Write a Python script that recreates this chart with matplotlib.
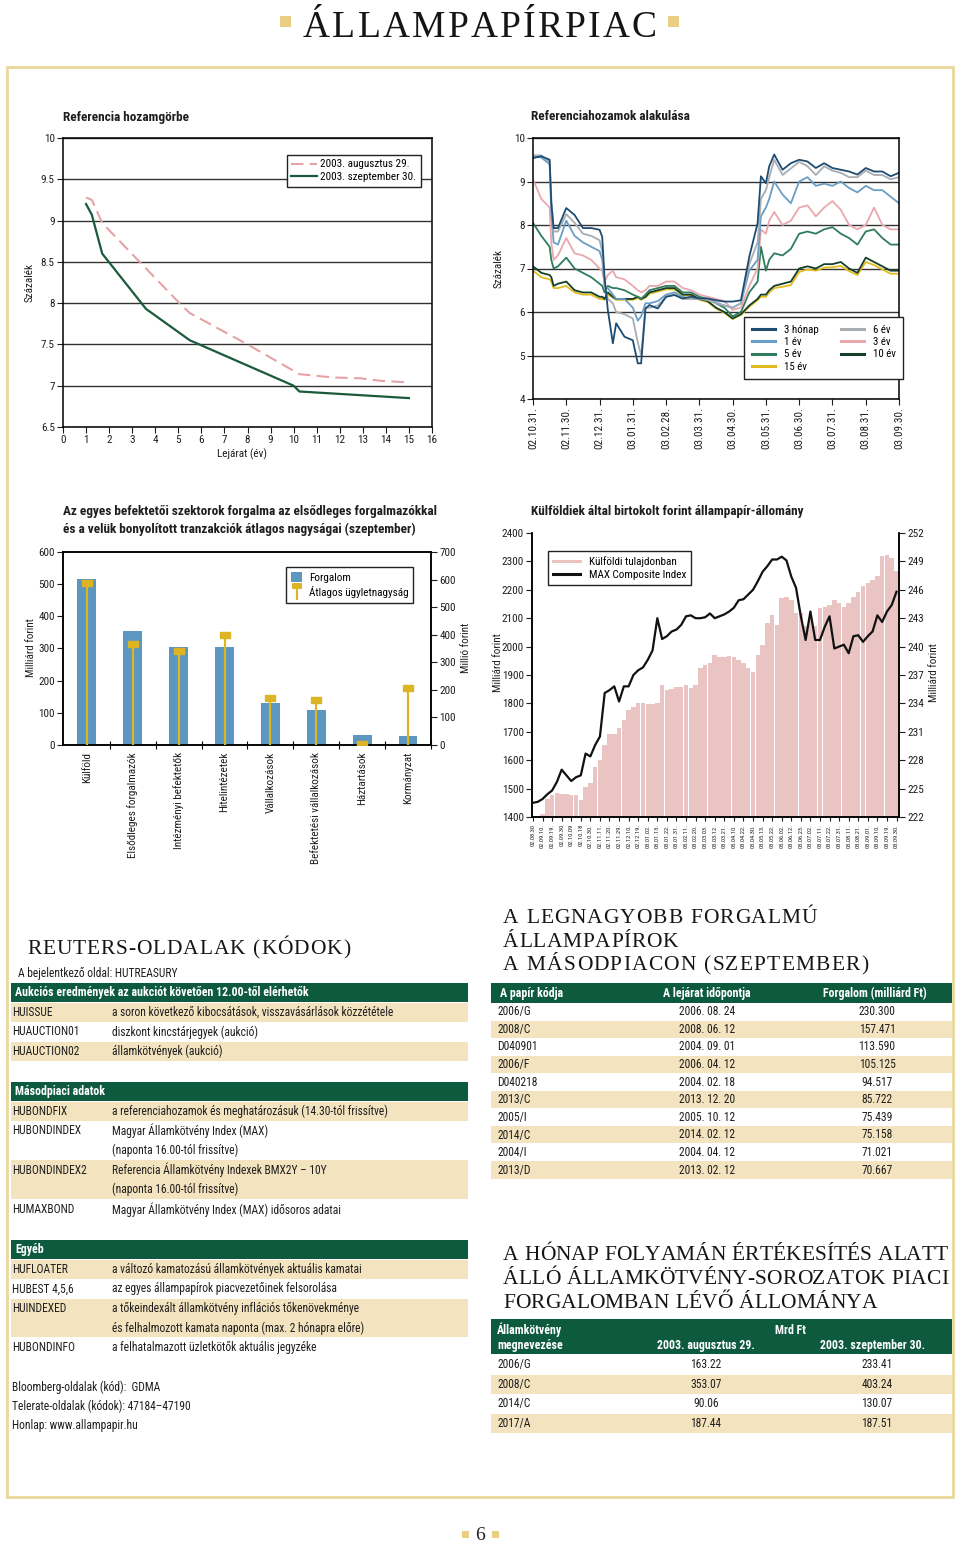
import numpy as np
import matplotlib
matplotlib.use('Agg')
import matplotlib.pyplot as plt
from matplotlib import font_manager as fm
from matplotlib.font_manager import FontProperties
from matplotlib.patches import Rectangle, Patch
from matplotlib.lines import Line2D
from matplotlib.path import Path

names = {f.name for f in fm.fontManager.ttflist}
NARROW = next((n for n in ['Liberation Sans Narrow', 'Roboto Condensed', 'Arial Narrow',
                           'Open Sans Condensed'] if n in names), 'Liberation Sans')
SERIF = 'Liberation Serif' if 'Liberation Serif' in names else 'DejaVu Serif'
plt.rcParams['font.family'] = [NARROW, 'DejaVu Sans']
plt.rcParams['axes.linewidth'] = 1.1

# ---------------- data ----------------
# Referencia hozamgörbe
aug_x = [1.0, 1.25, 1.7, 5.05, 5.5, 8.0, 10.25, 10.6, 11.7, 12.9, 13.75, 15.0]
aug_y = [9.28, 9.25, 8.97, 8.0, 7.88, 7.5, 7.14, 7.13, 7.10, 7.09, 7.06, 7.04]
sep_x = [1.0, 1.25, 1.7, 3.6, 5.5, 10.0, 10.25, 15.0]
sep_y = [9.2, 9.07, 8.6, 7.93, 7.55, 7.0, 6.93, 6.85]

# Referenciahozamok alakulása (x = months since 02.10.31)
ref_x = [0, 0.25, 0.5, 0.55, 0.62, 0.75, 1.0, 1.25, 1.5, 1.75, 2.0, 2.08, 2.15, 2.25, 2.4,
         2.5, 2.75, 3.0, 3.15, 3.25, 3.38, 3.5, 3.75, 4.0, 4.25, 4.5, 4.75, 5.0, 5.25, 5.5,
         5.75, 6.0, 6.25, 6.5, 6.75, 6.85, 7.0, 7.1, 7.25, 7.5, 7.75, 8.0, 8.25, 8.5, 8.75,
         9.0, 9.25, 9.5, 9.75, 10.0, 10.25, 10.5, 10.75, 11.0]
y_3m = [9.54, 9.58, 9.5, 8.5, 7.93, 7.93, 8.39, 8.23, 7.93, 7.93, 7.89, 7.73, 6.8, 6.04, 5.28,
        5.74, 5.43, 5.35, 4.82, 4.82, 6.08, 6.16, 6.08, 6.35, 6.39, 6.31, 6.35, 6.31, 6.31, 6.27,
        6.24, 6.24, 6.27, 7.27, 8.04, 9.12, 8.96, 9.35, 9.62, 9.27, 9.42, 9.5, 9.46, 9.31, 9.42,
        9.31, 9.27, 9.23, 9.16, 9.31, 9.23, 9.23, 9.12, 9.2]
y_6y = [9.6, 9.6, 9.45, 8.6, 7.85, 7.85, 8.25, 8.05, 7.8, 7.75, 7.65, 7.4, 6.6, 6.3, 6.2,
        6.0, 5.95, 5.85, 5.3, 5.0, 6.1, 6.1, 6.15, 6.35, 6.4, 6.3, 6.3, 6.3, 6.28, 6.2,
        6.15, 6.1, 6.2, 7.1, 7.6, 8.6, 8.8, 9.1, 9.5, 9.15, 9.3, 9.45, 9.35, 9.15, 9.35,
        9.25, 9.2, 9.1, 9.1, 9.25, 9.15, 9.15, 9.05, 9.1]
y_1y = [9.6, 9.55, 9.4, 8.3, 7.6, 7.55, 8.1, 7.75, 7.6, 7.5, 7.4, 7.2, 6.6, 6.55, 6.4,
        6.3, 6.3, 6.1, 5.8, 5.9, 6.2, 6.2, 6.25, 6.4, 6.45, 6.35, 6.3, 6.3, 6.28, 6.22,
        6.15, 6.1, 6.2, 6.95, 7.2, 8.2, 8.4, 8.6, 9.0, 8.7, 8.5, 9.0, 9.1, 8.9, 8.95,
        8.9, 9.0, 8.85, 8.75, 8.9, 8.8, 8.8, 8.65, 8.5]
y_3y = [9.05, 8.6, 8.4, 7.6, 7.2, 7.3, 7.7, 7.35, 7.3, 7.2, 7.0, 6.95, 6.7, 6.85, 6.95,
        6.8, 6.75, 6.6, 6.5, 6.45, 6.5, 6.6, 6.6, 6.7, 6.7, 6.55, 6.5, 6.4, 6.35, 6.3,
        6.25, 6.05, 6.1, 6.6, 7.0, 7.9, 7.8, 8.1, 8.3, 8.0, 8.1, 8.4, 8.45, 8.2, 8.4,
        8.55, 8.35, 8.0, 7.9, 8.0, 8.4, 8.0, 7.9, 7.9]
y_5y = [8.05, 7.75, 7.5, 7.2, 7.0, 7.05, 7.25, 7.0, 6.9, 6.8, 6.65, 6.6, 6.45, 6.6, 6.55,
        6.55, 6.5, 6.4, 6.35, 6.3, 6.4, 6.5, 6.55, 6.6, 6.6, 6.45, 6.45, 6.35, 6.3, 6.2,
        6.1, 5.9, 6.0, 6.45, 6.7, 7.5, 6.95, 7.2, 7.35, 7.3, 7.45, 7.8, 7.85, 7.8, 7.9,
        7.95, 7.8, 7.7, 7.55, 7.85, 7.9, 7.7, 7.55, 7.55]
y_10y = [7.05, 6.9, 6.85, 6.8, 6.6, 6.65, 6.7, 6.5, 6.45, 6.45, 6.35, 6.35, 6.3, 6.45, 6.35,
         6.3, 6.3, 6.3, 6.35, 6.3, 6.35, 6.45, 6.5, 6.55, 6.55, 6.4, 6.4, 6.3, 6.25, 6.1,
         6.0, 5.85, 5.95, 6.15, 6.3, 6.4, 6.4, 6.5, 6.6, 6.65, 6.7, 7.0, 7.05, 7.0, 7.1,
         7.1, 7.15, 7.0, 6.9, 7.25, 7.15, 7.05, 6.95, 6.95]
y_15y = [6.95, 6.8, 6.75, 6.7, 6.55, 6.55, 6.6, 6.45, 6.4, 6.4, 6.3, 6.3, 6.28, 6.4, 6.33,
         6.28, 6.28, 6.28, 6.32, 6.28, 6.33, 6.42, 6.47, 6.52, 6.52, 6.38, 6.38, 6.28, 6.23, 6.08,
         5.98, 5.84, 5.93, 6.12, 6.27, 6.35, 6.35, 6.45, 6.55, 6.58, 6.62, 6.92, 6.98, 6.95, 7.02,
         7.03, 7.06, 6.94, 6.85, 7.15, 7.08, 6.98, 6.88, 6.88]
ref_ticklabels = ['02.10.31.', '02.11.30.', '02.12.31.', '03.01.31.', '03.02.28.', '03.03.31.',
                  '03.04.30.', '03.05.31.', '03.06.30.', '03.07.31.', '03.08.31.', '03.09.30.']

# Szektorok forgalma
sectors = ['Külföld', 'Elsődleges forgalmazók', 'Intézményi befektetők', 'Hitelintézetek',
           'Vállalkozások', 'Befektetési vállalkozások', 'Háztartások', 'Kormányzat']
turnover = [516, 355, 304, 304, 131, 109, 31, 29]          # milliárd forint
avg_size = [588, 366, 342, 398, 172, 164, 2, 206]          # millió forint

# Külföldiek állampapír-állománya (x = half-steps between tick labels)
foreign_labels = ['02.08.30', '02.09.10.', '02.09.19.', '02.09.30', '02.10.09', '02.10.18',
                  '02.10.30.', '02.11.11.', '02.11.20.', '02.11.29.', '02.12.10.', '02.12.19.',
                  '03.01.02.', '03.01.13.', '03.01.22.', '03.01.31.', '03.02.11.', '03.02.20.',
                  '03.03.03.', '03.03.12.', '03.03.21.', '03.04.10.', '03.04.22.', '03.04.30.',
                  '03.05.13.', '03.05.22.', '03.06.02.', '03.06.12.', '03.06.23.', '03.07.02.',
                  '03.07.11.', '03.07.22.', '03.07.31.', '03.08.11.', '03.08.21.', '03.09.01.',
                  '03.09.10.', '03.09.19.', '03.09.30.']
foreign_hold = [1395, 1395, 1410, 1465, 1476, 1485, 1482, 1480, 1476, 1476, 1461, 1506, 1518,
                1576, 1602, 1653, 1694, 1694, 1712, 1741, 1776, 1788, 1800, 1800, 1798, 1798,
                1800, 1865, 1847, 1849, 1859, 1856, 1865, 1853, 1865, 1924, 1935, 1941, 1971,
                1965, 1965, 1967, 1965, 1953, 1941, 1924, 1912, 1971, 2006, 2082, 2112, 2076,
                2171, 2176, 2165, 2118, 2118, 2071, 2094, 2071, 2135, 2141, 2147, 2165, 2153,
                2141, 2153, 2176, 2194, 2212, 2224, 2235, 2247, 2318, 2324, 2312, 2265]
max_index = [223.5, 223.6, 223.9, 224.4, 224.8, 225.7, 227.0, 226.4, 225.8, 226.2, 226.4, 228.7,
             228.4, 229.6, 230.5, 235.1, 235.4, 235.8, 234.2, 235.8, 235.8, 237.0, 237.5, 237.8,
             238.6, 239.6, 243.0, 240.8, 241.1, 241.6, 241.8, 242.3, 243.2, 243.3, 243.0, 243.0,
             243.1, 243.5, 243.0, 243.2, 243.4, 243.7, 244.1, 244.9, 245.0, 245.5, 246.0, 246.9,
             247.9, 248.5, 249.2, 249.2, 249.5, 249.1, 247.4, 246.2, 243.2, 240.7, 243.7, 240.7,
             240.7, 242.1, 243.2, 239.8, 240.0, 240.2, 239.3, 241.1, 241.2, 240.5, 241.1, 241.6,
             243.3, 242.6, 243.7, 244.4, 245.8]

# Táblázatok
reuters_sections = [
    ('Aukciós eredmények az aukciót követően 12.00-től elérhetők', [
        ('HUISSUE', ['a soron következő kibocsátások, visszavásárlások közzététele']),
        ('HUAUCTION01', ['diszkont kincstárjegyek (aukció)']),
        ('HUAUCTION02', ['államkötvények (aukció)'])]),
    ('Másodpiaci adatok', [
        ('HUBONDFIX', ['a referenciahozamok és meghatározásuk (14.30-tól frissítve)']),
        ('HUBONDINDEX', ['Magyar Államkötvény Index (MAX)', '(naponta 16.00-tól frissítve)']),
        ('HUBONDINDEX2', ['Referencia Államkötvény Indexek BMX2Y – 10Y', '(naponta 16.00-tól frissítve)']),
        ('HUMAXBOND', ['Magyar Államkötvény Index (MAX) idősoros adatai'])]),
    ('Egyéb', [
        ('HUFLOATER', ['a változó kamatozású államkötvények aktuális kamatai']),
        ('HUBEST 4,5,6', ['az egyes állampapírok piacvezetőinek felsorolása']),
        ('HUINDEXED', ['a tőkeindexált államkötvény inflációs tőkenövekménye',
                       'és felhalmozott kamata naponta (max. 2 hónapra előre)']),
        ('HUBONDINFO', ['a felhatalmazott üzletkötők aktuális jegyzéke'])]),
]
other_pages = ['Bloomberg-oldalak (kód):  GDMA', 'Telerate-oldalak (kódok): 47184–47190',
               'Honlap: www.allampapir.hu']

top_codes = ['2006/G', '2008/C', 'D040901', '2006/F', 'D040218', '2013/C', '2005/I', '2014/C',
             '2004/I', '2013/D']
top_maturity = ['2006. 08. 24', '2008. 06. 12', '2004. 09. 01', '2006. 04. 12', '2004. 02. 18',
                '2013. 12. 20', '2005. 10. 12', '2014. 02. 12', '2004. 04. 12', '2013. 02. 12']
top_turnover = ['230.300', '157.471', '113.590', '105.125', '94.517', '85.722', '75.439',
                '75.158', '71.021', '70.667']

stock_codes = ['2006/G', '2008/C', '2014/C', '2017/A']
stock_aug = ['163.22', '353.07', '90.06', '187.44']
stock_sep = ['233.41', '403.24', '130.07', '187.51']

# ---------------- style ----------------
C_GREEN = '#0d5a3f'
C_BEIGE = '#f3e3bf'
C_GOLD = '#e9d89a'
C_SQ = '#ebcd84'
TXT = '#1e1e1e'
W, H = 960, 1544

fig = plt.figure(figsize=(W / 100, H / 100), dpi=100)
bg = fig.add_axes([0, 0, 1, 1], zorder=-5)
bg.set_xlim(0, W)
bg.set_ylim(H, 0)
bg.axis('off')
renderer = fig.canvas.get_renderer()


def spaced(x0, x1, y, s, size, color='#151515'):
    prop = FontProperties(family=SERIF, size=size)
    ws = []
    for ch in s:
        if ch == ' ':
            ws.append(size * 100 / 72 * 0.28)
        else:
            w, h, d = renderer.get_text_width_height_descent(ch, prop, ismath=False)
            ws.append(w)
    track = (x1 - x0 - sum(ws)) / (len(s) - 1)
    x = x0
    for ch, w in zip(s, ws):
        if ch != ' ':
            bg.text(x, y, ch, fontproperties=prop, color=color, ha='left', va='baseline')
        x += w + track


def add_ax(l, t, r, b):
    return fig.add_axes([l / W, 1 - b / H, (r - l) / W, (b - t) / H])


def style_ticks(ax, size=8):
    ax.tick_params(labelsize=size, length=4, width=0.8, colors=TXT, pad=2)


# ---------------- page decoration ----------------
bg.add_patch(Rectangle((7, 67), 946, 1430, fill=False, ec=C_GOLD, lw=2))
bg.add_patch(Rectangle((280, 16), 11, 11, color=C_SQ, lw=0))
bg.add_patch(Rectangle((668, 16), 11, 11, color=C_SQ, lw=0))
spaced(303, 657, 37, 'ÁLLAMPAPÍRPIAC', 27)
bg.add_patch(Rectangle((462, 1531), 7, 7, color=C_SQ, lw=0))
bg.add_patch(Rectangle((492, 1531), 7, 7, color=C_SQ, lw=0))
bg.text(480, 1536, '6', family=SERIF, fontsize=14, ha='center', va='center', color=TXT)

# ---------------- chart 1 ----------------
ax1 = add_ax(63, 138, 432, 427)
ax1.plot(aug_x, aug_y, color='#e6a3a6', lw=1.5, ls=(0, (6, 3)), label='2003. augusztus 29.')
ax1.plot(sep_x, sep_y, color='#1a5a3a', lw=1.6, label='2003. szeptember 30.')
ax1.set_xlim(0, 16)
ax1.set_ylim(6.5, 10)
ax1.set_xticks(range(17))
ax1.set_yticks([6.5, 7, 7.5, 8, 8.5, 9, 9.5, 10])
ax1.set_yticklabels(['6.5', '7', '7.5', '8', '8.5', '9', '9.5', '10'])
ax1.yaxis.grid(True, color='#333333', lw=1.0)
ax1.set_axisbelow(True)
style_ticks(ax1)
ax1.legend(loc='upper left', bbox_to_anchor=(287 / W, 1 - 155 / H), bbox_transform=fig.transFigure,
           borderaxespad=0, fontsize=8, frameon=True, fancybox=False, edgecolor='#222',
           framealpha=1, handlelength=2.3, labelspacing=0.25, borderpad=0.4, handletextpad=0.3)
bg.text(63, 117, 'Referencia hozamgörbe', fontsize=9.5, fontweight='bold', va='center', color=TXT)
bg.text(30, 282, 'Százalék', fontsize=8, rotation=90, ha='center', va='center', color=TXT)
bg.text(242, 454, 'Lejárat (év)', fontsize=8, ha='center', va='center', color=TXT)

# ---------------- chart 2 ----------------
ax2 = add_ax(533, 138, 899, 399)
series = [('15 év', y_15y, '#e2bb1f'), ('10 év', y_10y, '#143f28'), ('5 év', y_5y, '#2f7d5d'),
          ('3 év', y_3y, '#e9a7ae'), ('1 év', y_1y, '#6a9ec5'), ('6 év', y_6y, '#a8adb3'),
          ('3 hónap', y_3m, '#1d4c72')]
lines = {}
for lab, ys, col in series:
    lines[lab], = ax2.plot(ref_x, ys, color=col, lw=1.3, label=lab)
ax2.set_xlim(0, 11)
ax2.set_ylim(4, 10)
ax2.set_yticks(range(4, 11))
ax2.set_xticks(range(12))
ax2.set_xticklabels(ref_ticklabels, rotation=90, va='top', ha='center')
ax2.yaxis.grid(True, color='#333333', lw=1.0)
ax2.set_axisbelow(True)
style_ticks(ax2)
order = ['3 hónap', '1 év', '5 év', '15 év', '6 év', '3 év', '10 év']
leg_handles = [Line2D([0], [0], color=lines[k].get_color(), lw=2.2) for k in order]
ax2.legend(leg_handles, order, ncol=2, loc='upper left', bbox_to_anchor=(744 / W, 1 - 317 / H),
           bbox_transform=fig.transFigure, borderaxespad=0, fontsize=7.8, frameon=True,
           fancybox=False, edgecolor='#222', framealpha=1, handlelength=2.2, labelspacing=0.22,
           columnspacing=2.0, borderpad=0.7)
bg.text(531, 117, 'Referenciahozamok alakulása', fontsize=9.5, fontweight='bold', va='center', color=TXT)
bg.text(499, 268, 'Százalék', fontsize=8, rotation=90, ha='center', va='center', color=TXT)

# ---------------- chart 3 ----------------
ax3 = add_ax(63, 552, 431, 745)
xs = np.arange(len(sectors))
ax3.bar(xs, turnover, width=0.41, color='#5b97c1', zorder=2)
ax3.set_xlim(-0.52, 7.49)
ax3.set_ylim(0, 600)
ax3.set_yticks(range(0, 601, 100))
ax3.set_xticks(xs)
ax3.set_xticklabels(sectors, rotation=90, va='top', ha='center')
ax3.set_xticks(np.arange(0.5, 8, 1), minor=True)
style_ticks(ax3)
ax3.tick_params(axis='x', which='major', length=0, pad=5)
ax3.tick_params(axis='x', which='minor', length=6, direction='inout', width=0.8)
ax3r = ax3.twinx()
ax3r.set_ylim(0, 700)
ax3r.set_yticks(range(0, 701, 100))
style_ticks(ax3r)
stem_col = '#dcb424'
rect_marker = Path([(-0.75, -0.45), (0.75, -0.45), (0.75, 0.45), (-0.75, 0.45), (-0.75, -0.45)])
ax3r.vlines(xs, 0, avg_size, color=stem_col, lw=1.6, zorder=3)
ax3r.plot(xs, avg_size, ls='none', marker=rect_marker, ms=6.5, color=stem_col, zorder=4)
leg_marker = Path([(-0.45, 1.0), (0.45, 1.0), (0.45, 0.45), (-0.45, 0.45), (-0.45, 1.0), (0, 0.45), (0, -1.0)],
                  [Path.MOVETO, Path.LINETO, Path.LINETO, Path.LINETO, Path.CLOSEPOLY, Path.MOVETO, Path.LINETO])
h_bar = Patch(facecolor='#5b97c1', edgecolor='none')
h_stem = Line2D([0], [0], ls='none', marker=leg_marker, ms=12, color=stem_col, mew=1.5)
ax3r.legend([h_bar, h_stem], ['Forgalom', 'Átlagos ügyletnagyság'], loc='upper left',
            bbox_to_anchor=(286 / W, 1 - 567 / H), bbox_transform=fig.transFigure, borderaxespad=0,
            fontsize=8, frameon=True, fancybox=False, edgecolor='#222', framealpha=1,
            handlelength=1.0, handleheight=1.0, labelspacing=0.3, borderpad=0.45, handletextpad=0.6)
bg.text(63, 512, 'Az egyes befektetői szektorok forgalma az elsődleges forgalmazókkal',
        fontsize=9.5, fontweight='bold', va='center', color=TXT)
bg.text(63, 529, 'és a velük bonyolított tranzakciók átlagos nagyságai (szeptember)',
        fontsize=9.5, fontweight='bold', va='center', color=TXT)
bg.text(31, 648, 'Milliárd forint', fontsize=8, rotation=90, ha='center', va='center', color=TXT)
bg.text(466, 648, 'Millió forint', fontsize=8, rotation=90, ha='center', va='center', color=TXT)

# ---------------- chart 4 ----------------
ax4 = add_ax(532, 533, 899, 817)
fx = np.arange(len(foreign_hold)) * 0.5
ax4.bar(fx, foreign_hold, width=0.47, color='#eac3c3', lw=0, zorder=1)
ax4.set_xlim(-0.1, 38.26)
ax4.set_ylim(1400, 2400)
ax4.set_yticks(range(1400, 2401, 100))
ax4.set_xticks(range(len(foreign_labels)))
ax4.set_xticklabels(foreign_labels, rotation=90, va='top', ha='center', fontsize=4.6)
style_ticks(ax4)
ax4.tick_params(axis='x', labelsize=4.6, length=3)
ax4.spines['top'].set_visible(False)
ax4r = ax4.twinx()
ax4r.plot(fx, max_index, color='#111111', lw=1.6, zorder=3)
ax4r.set_ylim(222, 252)
ax4r.set_yticks(range(222, 253, 3))
style_ticks(ax4r)
ax4r.spines['top'].set_visible(False)
ax4r.legend([Line2D([0], [0], color='#eac3c3', lw=2.2), Line2D([0], [0], color='#111', lw=2.2)],
            ['Külföldi tulajdonban', 'MAX Composite Index'], loc='upper left',
            bbox_to_anchor=(548 / W, 1 - 551 / H), bbox_transform=fig.transFigure, borderaxespad=0,
            fontsize=8, frameon=True, fancybox=False, edgecolor='#222', framealpha=1,
            handlelength=2.4, labelspacing=0.25, borderpad=0.45)
bg.text(531, 512, 'Külföldiek által birtokolt forint állampapír-állomány', fontsize=9.5,
        fontweight='bold', va='center', color=TXT)
bg.text(498, 663, 'Milliárd forint', fontsize=8, rotation=90, ha='center', va='center', color=TXT)
bg.text(934, 673, 'Milliárd forint', fontsize=8, rotation=90, ha='center', va='center', color=TXT)

# ---------------- Reuters table (left) ----------------
TS = 8.3
spaced(27, 350, 954, 'REUTERS-OLDALAK (KÓDOK)', 15.5)
bg.text(18, 974, 'A bejelentkező oldal: HUTREASURY', fontsize=TS, va='center', color=TXT)
LX0, LX1 = 11, 468
RH = 19.6
header_tops = [983, 1082, 1240]
for (head, rows), top in zip(reuters_sections, header_tops):
    bg.add_patch(Rectangle((LX0, top), LX1 - LX0, 19, color=C_GREEN, lw=0))
    bg.text(15, top + 9.7, head, fontsize=8.6, fontweight='bold', color='white', va='center')
    y = top + 19.5
    for i, (code, desc) in enumerate(rows):
        h = RH * len(desc)
        if i % 2 == 0:
            bg.add_patch(Rectangle((LX0, y), LX1 - LX0, h - 0.6, color=C_BEIGE, lw=0))
        bg.text(12, y + RH / 2, code, fontsize=TS, va='center', color=TXT)
        for k, d in enumerate(desc):
            bg.text(112, y + RH / 2 + k * RH, d, fontsize=TS, va='center', color=TXT)
        y += h
for k, t in enumerate(other_pages):
    bg.text(12, 1387 + k * 19.5, t, fontsize=TS, va='center', color=TXT)

# ---------------- top turnover table (right) ----------------
RX0, RX1 = 491, 952
spaced(503, 817, 923, 'A LEGNAGYOBB FORGALMÚ', 15.5)
spaced(503, 678, 947, 'ÁLLAMPAPÍROK', 15.5)
spaced(503, 868, 970, 'A MÁSODPIACON (SZEPTEMBER)', 15.5)
bg.add_patch(Rectangle((RX0, 983), RX1 - RX0, 20, color=C_GREEN, lw=0))
bg.text(500, 993, 'A papír kódja', fontsize=8.6, fontweight='bold', color='white', va='center')
bg.text(707, 993, 'A lejárat időpontja', fontsize=8.6, fontweight='bold', color='white', va='center', ha='center')
bg.text(875, 993, 'Forgalom (milliárd Ft)', fontsize=8.6, fontweight='bold', color='white', va='center', ha='center')
rp = 17.6
for i, (c, m, v) in enumerate(zip(top_codes, top_maturity, top_turnover)):
    yt = 1003 + i * rp
    if i % 2 == 1:
        bg.add_patch(Rectangle((RX0, yt), RX1 - RX0, rp - 0.5, color=C_BEIGE, lw=0))
    yc = yt + rp / 2
    bg.text(497, yc, c, fontsize=TS, va='center', color=TXT)
    bg.text(707, yc, m, fontsize=TS, va='center', ha='center', color=TXT)
    bg.text(877, yc, v, fontsize=TS, va='center', ha='center', color=TXT)

# ---------------- outstanding stock table (right) ----------------
spaced(503, 948, 1260, 'A HÓNAP FOLYAMÁN ÉRTÉKESÍTÉS ALATT', 15.5)
spaced(503, 948, 1284, 'ÁLLÓ ÁLLAMKÖTVÉNY-SOROZATOK PIACI', 15.5)
spaced(503, 877, 1308, 'FORGALOMBAN LÉVŐ ÁLLOMÁNYA', 15.5)
bg.add_patch(Rectangle((RX0, 1319), RX1 - RX0, 35, color=C_GREEN, lw=0))
bg.text(497, 1330, 'Államkötvény', fontsize=8.6, fontweight='bold', color='white', va='center')
bg.text(497, 1346, 'megnevezése', fontsize=8.6, fontweight='bold', color='white', va='center')
bg.text(790, 1330, 'Mrd Ft', fontsize=8.6, fontweight='bold', color='white', va='center', ha='center')
bg.text(706, 1346, '2003. augusztus 29.', fontsize=8.6, fontweight='bold', color='white', va='center', ha='center')
bg.text(873, 1346, '2003. szeptember 30.', fontsize=8.6, fontweight='bold', color='white', va='center', ha='center')
sp = 19.5
for i, (c, a, s) in enumerate(zip(stock_codes, stock_aug, stock_sep)):
    yt = 1355 + i * sp
    if i % 2 == 1:
        bg.add_patch(Rectangle((RX0, yt), RX1 - RX0, sp - 0.5, color=C_BEIGE, lw=0))
    yc = yt + sp / 2
    bg.text(497, yc, c, fontsize=TS, va='center', color=TXT)
    bg.text(706, yc, a, fontsize=TS, va='center', ha='center', color=TXT)
    bg.text(877, yc, s, fontsize=TS, va='center', ha='center', color=TXT)

fig.savefig('out.png', dpi=100)
